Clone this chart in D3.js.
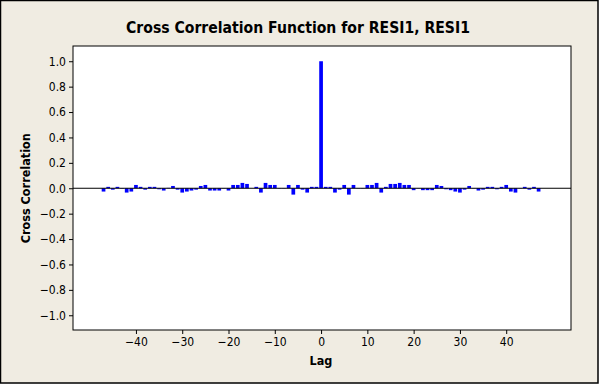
<!DOCTYPE html>
<html>
<head>
<meta charset="utf-8">
<script src="https://cdn.jsdelivr.net/npm/d3@7"></script>
<style>
  body { margin: 0; background: #ffffff; }
  text { font-family: "DejaVu Sans Condensed", "DejaVu Sans", sans-serif; font-stretch: condensed; }
</style>
</head>
<body>
<div id="ccf"></div>
<script>
// lags -47 .. 47 and the cross correlation
var lags = d3.range(-47, 48);
var ccfValues = [
  -0.026, 0.011, -0.011, 0.011, -0.003, -0.034, -0.026, 0.026, 0.011, -0.011,
  0.011, 0.011, -0.008, -0.018, 0.003, 0.018, -0.011, -0.034, -0.026, -0.018,
  -0.011, 0.018, 0.026, -0.018, -0.018, -0.018, 0.002, -0.018, 0.026, 0.026,
  0.042, 0.034, 0.000, 0.011, -0.034, 0.042, 0.026, 0.026, 0.002, 0.002,
  0.026, -0.050, 0.026, -0.011, -0.034, 0.011, 0.011,
  1.000,
  0.011, 0.011, -0.034, -0.011, 0.026, -0.050, 0.026, 0.002, 0.002, 0.026,
  0.026, 0.042, -0.034, 0.011, 0.034, 0.034, 0.042, 0.026, 0.026, -0.015,
  0.002, -0.015, -0.015, -0.015, 0.026, 0.018, -0.008, -0.015, -0.026, -0.034,
  -0.011, 0.018, 0.002, -0.018, -0.011, 0.011, 0.011, -0.008, 0.011, 0.026,
  -0.026, -0.034, 0.002, 0.011, -0.011, 0.011, -0.026
];
var xTicks = [-40, -30, -20, -10, 0, 10, 20, 30, 40];
var yTicks = [1.0, 0.8, 0.6, 0.4, 0.2, 0.0, -0.2, -0.4, -0.6, -0.8, -1.0];

var data = lags.map(function (d, i) { return { lag: d, value: ccfValues[i] }; });

var W = 602, H = 385;
var plot = { left: 73, top: 46, right: 571, bottom: 330 };

var svg = d3.select("#ccf")
  .append("svg")
  .attr("width", W)
  .attr("height", H);

// figure background and frame
svg.append("rect")
  .attr("x", 0.5).attr("y", 0.5)
  .attr("width", 597.5).attr("height", 382.5)
  .style("fill", "#f0ece2")
  .style("stroke", "#000")
  .style("stroke-width", 1.5);

svg.append("rect")
  .attr("x", plot.left).attr("y", plot.top)
  .attr("width", plot.right - plot.left)
  .attr("height", plot.bottom - plot.top)
  .style("fill", "#fff");

// scales
var x = d3.scaleLinear()
  .domain([-53.6, 54])
  .range([plot.left, plot.right]);

var y = d3.scaleLinear()
  .domain([-1.116, 1.12])
  .range([plot.bottom, plot.top]);

var barW = (x(1) - x(0)) * 0.8;

// bars
svg.selectAll("rect.bar")
  .data(data)
  .enter()
  .append("rect")
  .attr("class", "bar")
  .attr("x", function (d) { return x(d.lag) - barW / 2; })
  .attr("y", function (d) { return y(Math.max(0, d.value)); })
  .attr("width", barW)
  .attr("height", function (d) { return Math.abs(y(d.value) - y(0)); })
  .style("fill", "#0000ff");

// zero reference line
svg.append("line")
  .attr("x1", plot.left).attr("x2", plot.right)
  .attr("y1", y(0)).attr("y2", y(0))
  .style("stroke", "#000")
  .style("stroke-width", 1);

// axes
var xAxis = svg.append("g")
  .attr("transform", "translate(0," + plot.bottom + ")")
  .call(d3.axisBottom(x)
    .tickValues(xTicks)
    .tickFormat(d3.format("d"))
    .tickSize(4)
    .tickSizeOuter(0));

var yAxis = svg.append("g")
  .attr("transform", "translate(" + plot.left + ",0)")
  .call(d3.axisLeft(y)
    .tickValues(yTicks)
    .tickFormat(d3.format(".1f"))
    .tickSize(4)
    .tickPadding(3)
    .tickSizeOuter(0));

[xAxis, yAxis].forEach(function (g) {
  g.select(".domain").remove();
  g.selectAll("text")
    .style("font-size", "12px")
    .style("fill", "#000");
});

// plot border
svg.append("rect")
  .attr("x", plot.left).attr("y", plot.top)
  .attr("width", plot.right - plot.left)
  .attr("height", plot.bottom - plot.top)
  .style("fill", "none")
  .style("stroke", "#000")
  .style("stroke-width", 1);

// titles
svg.append("text")
  .attr("x", 298).attr("y", 33)
  .attr("text-anchor", "middle")
  .style("font-size", "15.6px")
  .style("font-weight", "bold")
  .text("Cross Correlation Function for RESI1, RESI1");

svg.append("text")
  .attr("x", 321).attr("y", 365)
  .attr("text-anchor", "middle")
  .style("font-size", "12.5px")
  .style("font-weight", "bold")
  .text("Lag");

svg.append("text")
  .attr("transform", "translate(30," + y(0) + ")rotate(-90)")
  .attr("text-anchor", "middle")
  .style("font-size", "12.5px")
  .style("font-weight", "bold")
  .text("Cross Correlation");
</script>
</body>
</html>
